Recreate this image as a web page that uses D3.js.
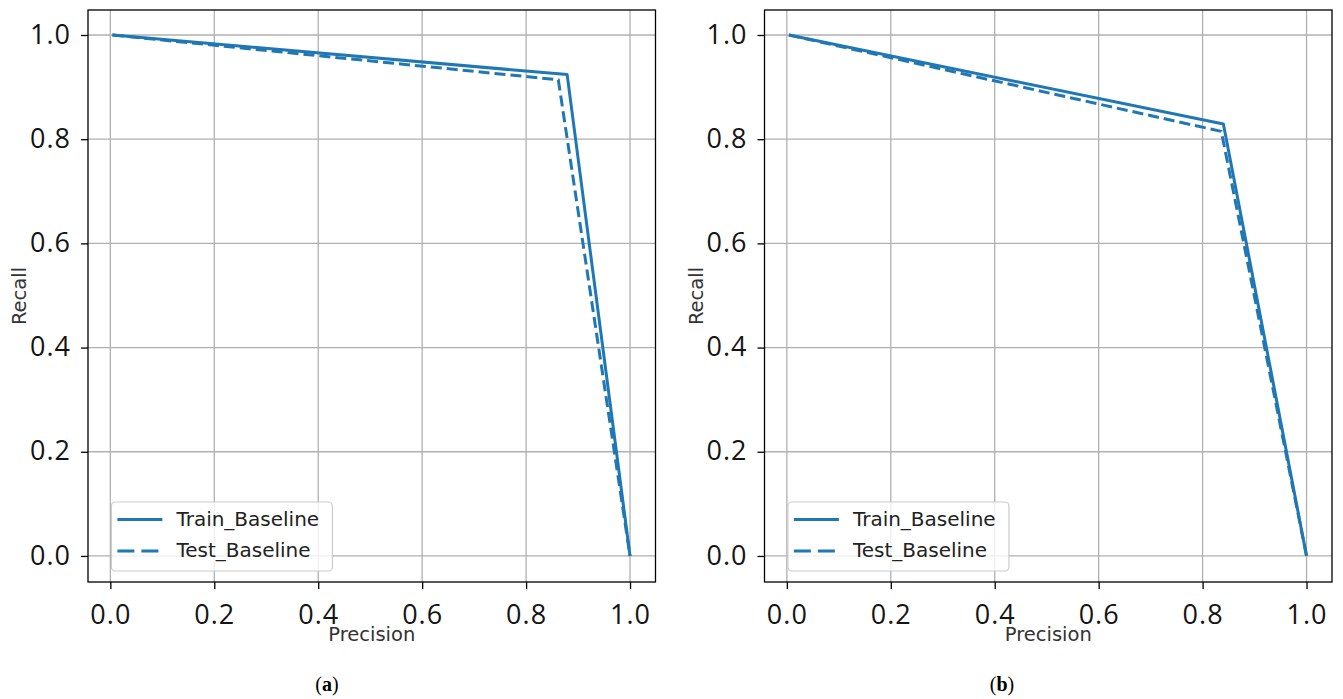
<!DOCTYPE html>
<html>
<head>
<meta charset="utf-8">
<script src="https://cdn.jsdelivr.net/npm/d3@7"></script>
<style>
  body { margin: 0; background: #fff; }
  svg { display: block; }
</style>
</head>
<body>
<svg id="chart" width="1343" height="699"></svg>
<script>
// values
var xTicks = [0.0, 0.2, 0.4, 0.6, 0.8, 1.0]
var yTicks = [0.0, 0.2, 0.4, 0.6, 0.8, 1.0]
var seriesNames = ['Train_Baseline', 'Test_Baseline']

// panel (a)
var trainA = [[0.004, 1.0], [0.879, 0.924], [1.0, 0.0]]
var testA = [[0.004, 1.0], [0.862, 0.914], [1.0, 0.0]]
// panel (b)
var trainB = [[0.004, 1.0], [0.840, 0.829], [1.0, 0.0]]
var testB = [[0.004, 1.0], [0.836, 0.815], [1.0, 0.0]]

var panels = [
    {left: 88, caption: 'a', capX: 327, train: trainA, test: testA},
    {left: 764.5, caption: 'b', capX: 1002, train: trainB, test: testB}
]

var svg = d3.select('#chart')
var blue = '#1f77b4'
var plotW = 567.5, plotTop = 10, plotBottom = 582

panels.forEach(function(p){
    var x = d3.scaleLinear().domain([-0.043, 1.049]).range([p.left, p.left + plotW])
    var y = d3.scaleLinear().domain([-0.05, 1.048]).range([plotBottom, plotTop])
    var g = svg.append('g')

    // grid
    g.append('g').selectAll('line').data(xTicks).join('line')
        .attr('x1', d => x(d)).attr('x2', d => x(d))
        .attr('y1', plotTop).attr('y2', plotBottom)
        .attr('stroke', '#b0b0b0').attr('stroke-width', 1.3)
    g.append('g').selectAll('line').data(yTicks).join('line')
        .attr('y1', d => y(d)).attr('y2', d => y(d))
        .attr('x1', p.left).attr('x2', p.left + plotW)
        .attr('stroke', '#b0b0b0').attr('stroke-width', 1.3)

    var line = d3.line().x(d => x(d[0])).y(d => y(d[1]))
    g.append('path').datum(p.train).attr('d', line)
        .attr('fill', 'none').attr('stroke', blue).attr('stroke-width', 3)
        .attr('stroke-linejoin', 'round')
    g.append('path').datum(p.test).attr('d', line)
        .attr('fill', 'none').attr('stroke', blue).attr('stroke-width', 3)
        .attr('stroke-dasharray', '11,5')

    // axes via d3
    var xAxis = d3.axisBottom(x).tickValues(xTicks).tickFormat(d3.format('.1f')).tickSize(7).tickPadding(10)
    var yAxis = d3.axisLeft(y).tickValues(yTicks).tickFormat(d3.format('.1f')).tickSize(7).tickPadding(10)
    var xa = g.append('g').attr('transform', 'translate(0,' + plotBottom + ')').call(xAxis)
    var ya = g.append('g').attr('transform', 'translate(' + p.left + ',0)').call(yAxis)
    ;[xa, ya].forEach(function(a){
        a.select('.domain').remove()
        a.selectAll('line').attr('stroke', '#000').attr('stroke-width', 1.3)
        a.selectAll('text')
            .attr('font-family', '"Open Sans", sans-serif')
            .attr('font-size', 27)
            .attr('letter-spacing', 1)
            .attr('fill', '#141414')
    })
    xa.selectAll('text').attr('dy', '0.93em')
    ya.selectAll('text').attr('dy', '0.3em')

    // frame
    g.append('rect').attr('x', p.left).attr('y', plotTop)
        .attr('width', plotW).attr('height', plotBottom - plotTop)
        .attr('fill', 'none').attr('stroke', '#000').attr('stroke-width', 1.3)

    // axis labels
    g.append('text').attr('x', p.left + plotW / 2).attr('y', 641)
        .attr('text-anchor', 'middle')
        .attr('font-family', '"DejaVu Sans", sans-serif').attr('font-size', 19.5)
        .attr('fill', '#333').text('Precision')
    g.append('text')
        .attr('transform', 'translate(' + (p.left - 62) + ',' + ((plotTop + plotBottom) / 2) + ') rotate(-90)')
        .attr('text-anchor', 'middle')
        .attr('font-family', '"DejaVu Sans", sans-serif').attr('font-size', 19.5)
        .attr('fill', '#333').text('Recall')

    // legend
    var lx = x(0.002), ly = 502
    var lg = g.append('g')
    lg.append('rect').attr('x', lx).attr('y', ly).attr('width', 221).attr('height', 69)
        .attr('rx', 4).attr('fill', '#fff').attr('fill-opacity', 0.8)
        .attr('stroke', '#ccc').attr('stroke-width', 1.2)
    lg.selectAll('line').data(seriesNames).join('line')
        .attr('x1', lx + 6).attr('x2', lx + 51)
        .attr('y1', (d, i) => ly + 17.5 + i * 31.4).attr('y2', (d, i) => ly + 17.5 + i * 31.4)
        .attr('stroke', blue).attr('stroke-width', 3)
        .attr('stroke-dasharray', (d, i) => i ? '17,7' : null)
    lg.selectAll('text').data(seriesNames).join('text')
        .attr('x', lx + 65).attr('y', (d, i) => ly + 24 + i * 31)
        .attr('font-family', '"DejaVu Sans", sans-serif').attr('font-size', 20)
        .attr('fill', '#222').text(d => d)

    // caption
    var cap = g.append('text').attr('x', p.capX).attr('y', 691)
        .attr('text-anchor', 'middle')
        .attr('font-family', '"Liberation Serif", serif').attr('font-size', 20)
        .attr('fill', '#000')
    cap.append('tspan').text('(')
    cap.append('tspan').attr('font-weight', 'bold').text(p.caption)
    cap.append('tspan').text(')')
})
</script>
</body>
</html>
